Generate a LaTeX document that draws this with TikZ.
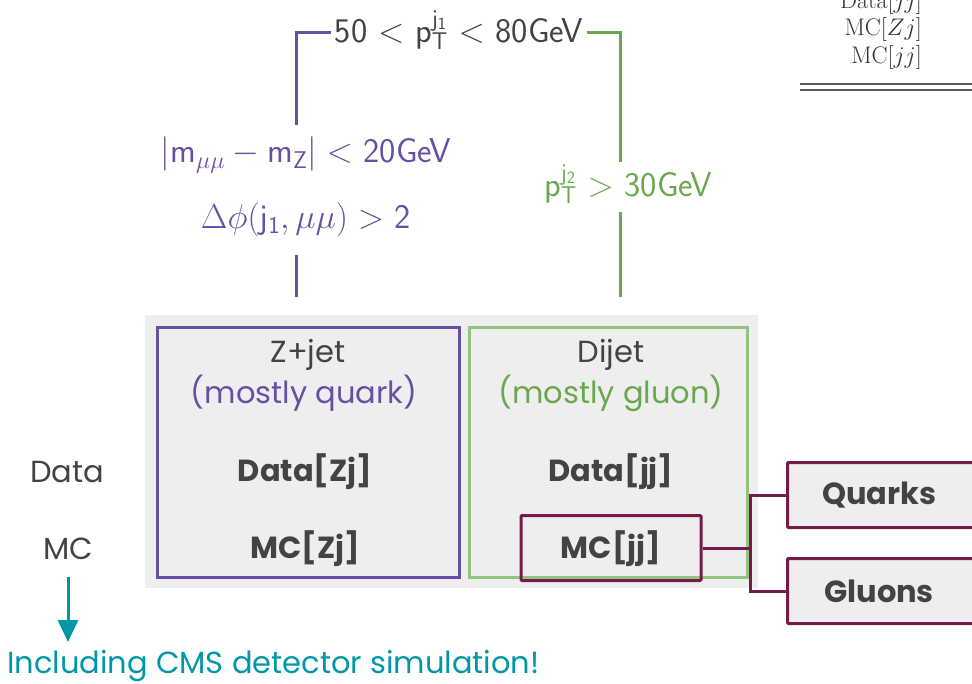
\RequirePackage{fix-cm}
\documentclass[tikz,border=0pt]{standalone}
\usepackage{fontspec}
\setmainfont{Poppins}
\newfontfamily\lmr{Latin Modern Roman}
\usetikzlibrary{arrows.meta}
\definecolor{cpurple}{HTML}{6650A4}
\definecolor{cgreen}{HTML}{6AA84F}
\definecolor{cgreenbox}{HTML}{93C47D}
\definecolor{cmaroon}{HTML}{741B47}
\definecolor{cteal}{HTML}{0097A7}
\definecolor{cdark}{HTML}{434343}
\definecolor{cbg}{HTML}{EEEEEE}
\tikzset{
  body/.style={text=cdark, font=\fontsize{30.5}{34}\selectfont, inner sep=0pt},
  bbody/.style={text=cdark, font=\fontsize{30.5}{34}\selectfont\bfseries, inner sep=0pt},
  cut/.style={font=\sffamily\fontsize{34.5}{40}\selectfont, inner sep=0pt},
  frame/.style={line width=3pt},
  mbox/.style={draw=cmaroon, line width=3pt, fill=cbg, minimum height=65pt, inner sep=0pt, rounded corners=1pt},
  link/.style={draw=cmaroon, line width=3pt},
  tab/.style={font=\lmr\fontsize{24}{26}\selectfont, inner sep=0pt, anchor=east, text=black!80}
}
\begin{document}
\begin{tikzpicture}[x=1pt,y=-1pt]
\useasboundingbox (0,0) rectangle (972,684);
% background
\fill[cbg] (145,315) rectangle (758,588);
\draw[frame, draw=cpurple] (157,328) rectangle (459,577);
\draw[frame, draw=cgreenbox] (469,328) rectangle (747,577);
% headings
\node[body] (zj) at (308,355) {Z+jet};
\node[body, text=cpurple] (zjq) at (304,393) {(mostly quark)};
\node[body] (dj) at (611,355) {Dijet};
\node[body, text=cgreen] (djg) at (611,393) {(mostly gluon)};
% rows
\node[body] (data) at (67,472) {Data};
\node[body] (mc) at (68,549) {MC};
\node[bbody] (dzj) at (305,472) {Data[Zj]};
\node[bbody] (mzj) at (305,549) {MC[Zj]};
\node[bbody] (djj) at (611,472) {Data[jj]};
\node[mbox, fill=none, minimum width=180pt] (mjjbox) at (611,548) {};
\node[bbody] (mjj) at (611,549) {MC[jj]};
% quark/gluon boxes
\node[mbox, minimum width=200pt, anchor=west] (q) at (786,495) {};
\node[bbody, anchor=west] (qt) at (822,495) {Quarks};
\node[mbox, minimum width=200pt, anchor=west] (g) at (786,591) {};
\node[bbody, anchor=west] (gt) at (824,591) {Gluons};
\coordinate (split) at (750,548);
\draw[link] (mjjbox.east) -- (split);
\draw[link] (q.west) -- (q.west -| split) -- (g.west -| split) -- (g.west);
% MC arrow
\coordinate (arrs) at (68,577);
\node[text=cteal, font=\fontsize{30.5}{34}\selectfont, anchor=west, inner sep=0pt] (incl) at (7,666) {Including CMS detector simulation!};
\draw[cteal, line width=3pt, -{Triangle[length=22pt,width=20pt]}] (arrs) -- (68,642);
% cuts
\node[cut, text=cdark] (pt1) at (459,30) {50 $<$ p$^{\mathsf{j}_{\mathsf{1}}}_{\mathsf{T}}$ $<$ 80GeV};
\node[cut, text=cpurple] (mz) at (306,155) {$|\mathsf{m}_{\mu\mu}-\mathsf{m}_{\mathsf{Z}}|<$ 20GeV};
\node[cut, text=cpurple] (dphi) at (306,220) {$\Delta\phi(\mathsf{j}_{\mathsf{1}},\mu\mu)>$ 2};
\node[cut, text=cgreen] (pt2) at (628,184) {p$^{\mathsf{j}_{\mathsf{2}}}_{\mathsf{T}}$ $>$ 30GeV};
\coordinate (pa) at (296,125);
\coordinate (pb) at (296,255);
\coordinate (pc) at (296,297);
\coordinate (ga) at (620,162);
\coordinate (gb) at (620,212);
\coordinate (gc) at (620,297);
\draw[cpurple, line width=3pt] (pa) -- (296,33) -- ([xshift=-4pt]pt1.west |- 0,33);
\draw[cpurple, line width=3pt] (pb) -- (pc);
\draw[cgreen, line width=3pt] (ga) -- (620,33) -- ([xshift=4pt]pt1.east |- 0,33);
\draw[cgreen, line width=3pt] (gb) -- (gc);
% table corner
\node[tab] (t1) at (922,3) {Data$[jj]$};
\node[tab] (t2) at (922,30) {MC$[Zj]$};
\node[tab] (t3) at (922,58) {MC$[jj]$};
\draw[black!65, line width=2pt] (800,84) -- (972,84);
\draw[black!65, line width=2pt] (800,90) -- (972,90);
\end{tikzpicture}
\end{document}
